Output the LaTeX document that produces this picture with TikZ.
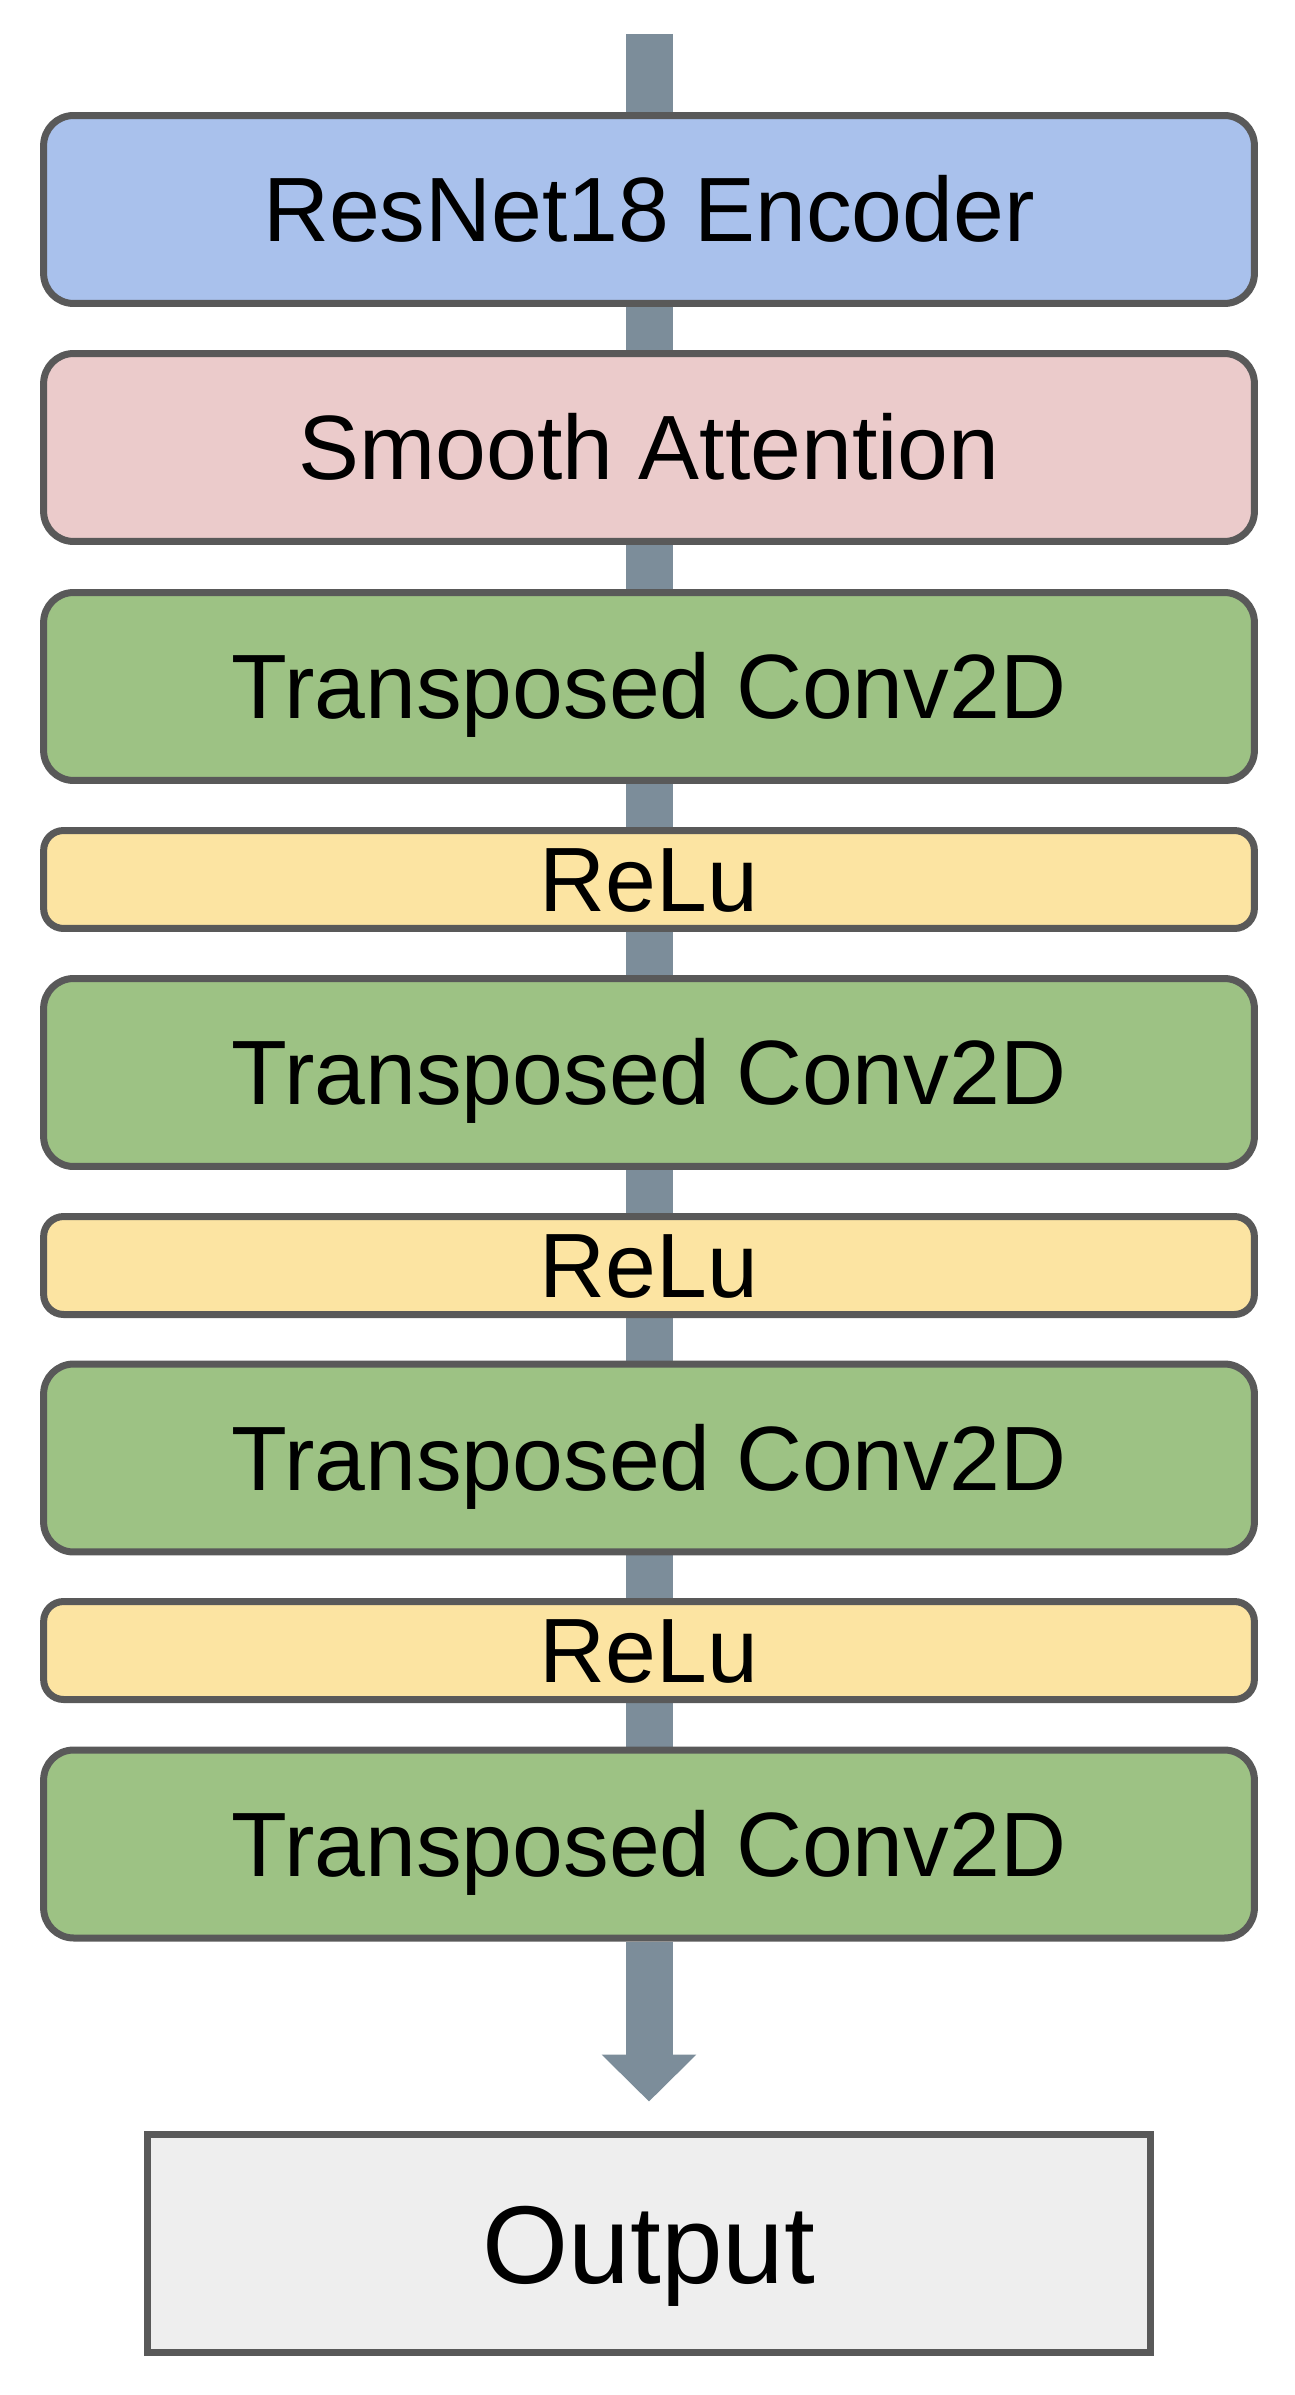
\documentclass[tikz,border=0pt]{standalone}
\usepackage{fontspec}
\setmainfont{Liberation Sans}
\usetikzlibrary{arrows.meta,backgrounds}
\definecolor{encblue}{HTML}{A9C1EC}
\definecolor{attpink}{HTML}{EBCBCB}
\definecolor{convgreen}{HTML}{9DC284}
\definecolor{reluyellow}{HTML}{FCE4A2}
\definecolor{outgray}{HTML}{EEEEEE}
\definecolor{edgegray}{HTML}{595959}
\definecolor{flowgray}{HTML}{7C8D9A}

\begin{document}
\begin{tikzpicture}[
  x=0.02cm,y=-0.02cm,
  every node/.style={draw=edgegray,line width=0.14cm,inner sep=0pt,minimum width=24.22cm,
    font=\fontsize{52}{60}\selectfont,text height=1.29cm,text depth=0pt},
  tall/.style={minimum height=3.76cm,rounded corners=0.6cm},
  thin/.style={minimum height=1.96cm,rounded corners=0.4cm},
  flow/.style={draw=flowgray,line width=0.94cm}]
  \useasboundingbox(0,0) rectangle (1294,2395);
  \coordinate(in) at(649,34);
  \node[tall,fill=encblue](enc) at(649,209.5){ResNet18 Encoder};
  \node[tall,fill=attpink](att) at(649,447.5){Smooth Attention};
  \node[tall,fill=convgreen](tc1) at(649,686.5){Transposed Conv2D};
  \node[thin,fill=reluyellow](re1) at(649,879.5){ReLu};
  \node[tall,fill=convgreen](tc2) at(649,1072.5){Transposed Conv2D};
  \node[thin,fill=reluyellow](re2) at(649,1265.5){ReLu};
  \node[tall,fill=convgreen](tc3) at(649,1458){Transposed Conv2D};
  \node[thin,fill=reluyellow](re3) at(649,1650.5){ReLu};
  \node[tall,fill=convgreen](tc4) at(649,1844){Transposed Conv2D};
  \node[fill=outgray,minimum width=20.06cm,minimum height=4.36cm,
    font=\fontsize{63}{72}\selectfont,text height=1.58cm](out) at(649,2243.5){Output};
  \begin{scope}[on background layer]
    \draw[flow](in)--(enc.north);\draw[flow](enc.south)--(att.north);
    \draw[flow](att.south)--(tc1.north);\draw[flow](tc1.south)--(re1.north);
    \draw[flow](re1.south)--(tc2.north);\draw[flow](tc2.south)--(re2.north);
    \draw[flow](re2.south)--(tc3.north);\draw[flow](tc3.south)--(re3.north);
    \draw[flow](re3.south)--(tc4.north);
  \end{scope}
  \draw[flow,-{Triangle[width=1.84cm,length=0.94cm]},shorten >=0.59cm](tc4.south)--(out.north);
\end{tikzpicture}
\end{document}
